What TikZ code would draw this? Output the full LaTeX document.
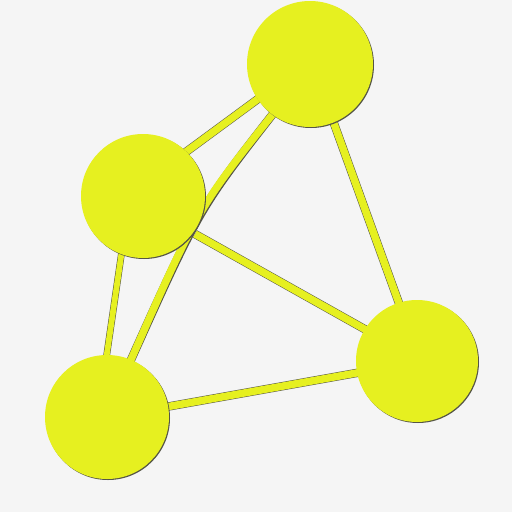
\documentclass[tikz,border=0pt]{standalone}
\usetikzlibrary{calc}
\definecolor{bg}{RGB}{245,245,245}
\definecolor{yel}{RGB}{230,240,32}
\definecolor{edge}{RGB}{85,85,70}
\tikzset{
  ball/.style={circle, fill=yel, draw=none, inner sep=0pt},
  shade/.style={circle, fill=edge, draw=none, inner sep=0pt},
  rodshadow/.style={draw=edge, line width=8.4pt, line cap=butt},
  rod/.style={draw=yel, line width=7.4pt, line cap=butt},
}
\begin{document}
\begin{tikzpicture}[x=1pt,y=-1pt]
\fill[bg] (0,0) rectangle (512,512);
\useasboundingbox (0,0) rectangle (512,512);
% centers
\coordinate (T) at (310,64);
\coordinate (L) at (143,196);
\coordinate (B) at (107,417);
\coordinate (R) at (417,361);
% rod endpoints
\coordinate (t1) at (262,96);
\coordinate (l1) at (175,160);
\coordinate (t2) at (276,110);
\coordinate (b2) at (130,362);
\coordinate (l3) at (122,250);
\coordinate (b3) at (106,360);
\coordinate (l4) at (195,234);
\coordinate (r4) at (368,331);
\coordinate (t5) at (332,118);
\coordinate (r5) at (400,306);
\coordinate (b6) at (160,408);
\coordinate (r6) at (362,372);
% rods (shadow)
\begin{scope}[shift={(0.9,0.9)}]
\draw[rodshadow] (t1) -- (l1);
\draw[rodshadow] (t2) .. controls (198,208) .. (b2);
\draw[rodshadow,line width=6.8pt] (l3) -- (b3);
\draw[rodshadow] (l4) -- (r4);
\draw[rodshadow] (t5) -- (r5);
\draw[rodshadow] (b6) -- (r6);
\end{scope}
% rods
\draw[rod] (t1) -- (l1);
\draw[rod] (t2) .. controls (198,208) .. (b2);
\draw[rod,line width=5.8pt] (l3) -- (b3);
\draw[rod] (l4) -- (r4);
\draw[rod] (t5) -- (r5);
\draw[rod] (b6) -- (r6);
% balls
\node[shade, minimum size=126pt] (Ts) at ($(T)+(1,1)$) {};
\node[ball, minimum size=126pt] (Tn) at (T) {};
\node[shade, minimum size=124pt] (Ls) at ($(L)+(1,1)$) {};
\node[ball, minimum size=124pt] (Ln) at (L) {};
\node[shade, minimum size=124pt] (Bs) at ($(B)+(1,1)$) {};
\node[ball, minimum size=124pt] (Bn) at (B) {};
\node[shade, minimum size=122pt] (Rs) at ($(R)+(1,1)$) {};
\node[ball, minimum size=122pt] (Rn) at (R) {};
\end{tikzpicture}
\end{document}
